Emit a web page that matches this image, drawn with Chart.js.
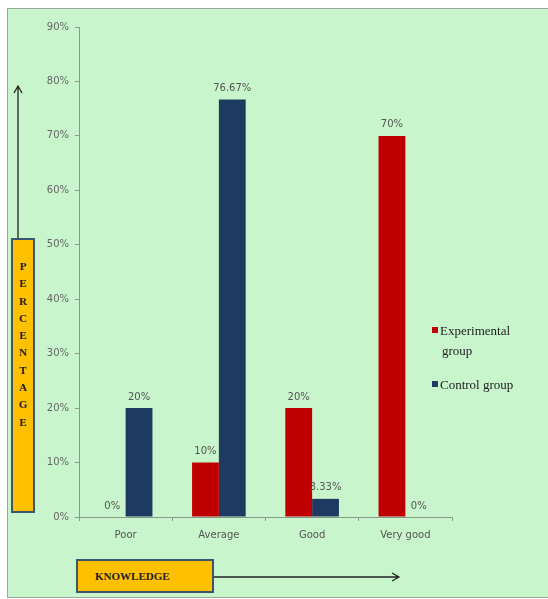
<!DOCTYPE html>
<html>
<head>
<meta charset="utf-8">
<script src="https://cdn.jsdelivr.net/npm/chart.js@4.4.1/dist/chart.umd.min.js"></script>
<style>
	body { margin: 0; background: #fff; }
	#wrap { position: relative; width: 548px; height: 599px; }
	#frame { position: absolute; left: 7px; top: 8px; width: 540px; height: 588px; background: #c8f5cc; border: 1px solid #9aa59a; }
	#graf { position: absolute; left: 0; top: 0; }
	.caja { position: absolute; background: #ffc000; border: 2px solid #3d5670; box-sizing: border-box; font-family: "Liberation Serif", serif; font-weight: bold; color: #222; }
	#cajaY { left: 11px; top: 238px; width: 24px; height: 275px; text-align: center; font-size: 11px; line-height: 17.3px; padding-top: 18px; }
	#cajaX { left: 76px; top: 559px; width: 138px; height: 34px; font-size: 11px; line-height: 30px; padding-left: 17px; }
	.leyenda { position: absolute; left: 432px; font-family: "Liberation Serif", serif; font-size: 13px; color: #222; line-height: 20px; }
	.leyenda span { display: inline-block; width: 6px; height: 6px; margin-right: 2px; vertical-align: 2px; }
</style>
</head>
<body>
<div id="wrap">
	<div id="frame"></div>
	<canvas id="graf" width="548" height="599"></canvas>
	<div class="caja" id="cajaY">P<br>E<br>R<br>C<br>E<br>N<br>T<br>A<br>G<br>E</div>
	<div class="caja" id="cajaX">KNOWLEDGE</div>
	<div class="leyenda" style="top:321px;"><span style="background:#c00000"></span>Experimental<br><span style="width:8px;height:0"></span>group</div>
	<div class="leyenda" style="top:375px;"><span style="background:#1f3a60"></span>Control group</div>
</div>
<script>
// Datos
const categorias = ["Poor", "Average", "Good", "Very good"];
const experimental = [0, 10, 20, 70];
const control = [20, 76.67, 3.33, 0];
const etiquetasExp = ["0%", "10%", "20%", "70%"];
const etiquetasCtrl = ["20%", "76.67%", "3.33%", "0%"];

/* Etiquetas encima de las barras */
const etiquetas = {
	id: "etiquetas",
	afterDatasetsDraw(chart) {
		const ctx = chart.ctx;
		ctx.save();
		ctx.font = "10px 'DejaVu Sans', sans-serif";
		ctx.fillStyle = "#555";
		ctx.textAlign = "center";
		ctx.textBaseline = "bottom";
		const textos = [etiquetasExp, etiquetasCtrl];
		chart.data.datasets.forEach((ds, i) => {
			chart.getDatasetMeta(i).data.forEach((bar, j) => {
				ctx.fillText(textos[i][j], bar.x, bar.y - 6);
			});
		});
		ctx.restore();
	}
};

/* Flechas de los ejes */
const flechas = {
	id: "flechas",
	afterDraw(chart) {
		const ctx = chart.ctx;
		ctx.save();
		ctx.strokeStyle = "#222";
		ctx.lineWidth = 1.3;
		ctx.beginPath();
		ctx.moveTo(18, 238); ctx.lineTo(18, 86);
		ctx.moveTo(14, 93); ctx.lineTo(18, 86); ctx.lineTo(22, 93);
		ctx.moveTo(214, 577); ctx.lineTo(399, 577);
		ctx.moveTo(392, 573); ctx.lineTo(399, 577); ctx.lineTo(392, 581);
		ctx.stroke();
		ctx.restore();
	}
};

const G4 = document.getElementById("graf").getContext("2d");
let grafico = new Chart(G4, {
	type: "bar",
	data: {
		labels: categorias,
		datasets: [
			{
				label: "Experimental group",
				data: experimental,
				backgroundColor: "#c00000",
				categoryPercentage: 0.575,
				barPercentage: 1,
			},
			{
				label: "Control group",
				data: control,
				backgroundColor: "#1f3a60",
				categoryPercentage: 0.575,
				barPercentage: 1,
			}
		],
	},
	options: {
		responsive: false,
		animation: false,
		layout: { padding: { left: 0, right: 96, top: 27, bottom: 52 } },
		scales: {
			y: {
				min: 0,
				max: 90,
				afterFit(s) { s.width = 79; },
				ticks: {
					stepSize: 10,
					color: "#666",
					padding: 6,
					font: { size: 10, family: "'DejaVu Sans', sans-serif" },
					callback: (v) => v + "%",
				},
				grid: { drawOnChartArea: false, tickLength: 4, color: "#8a9a8a" },
				border: { color: "#8a9a8a" },
			},
			x: {
				afterFit(s) { s.height = 30; },
				ticks: {
					color: "#555",
					padding: 8,
					font: { size: 10, family: "'DejaVu Sans', sans-serif" },
				},
				grid: { drawOnChartArea: false, tickLength: 4, color: "#8a9a8a" },
				border: { color: "#8a9a8a" },
			}
		},
		plugins: {
			legend: { display: false },
			tooltip: { enabled: false },
		}
	},
	plugins: [etiquetas, flechas],
});
</script>
</body>
</html>
